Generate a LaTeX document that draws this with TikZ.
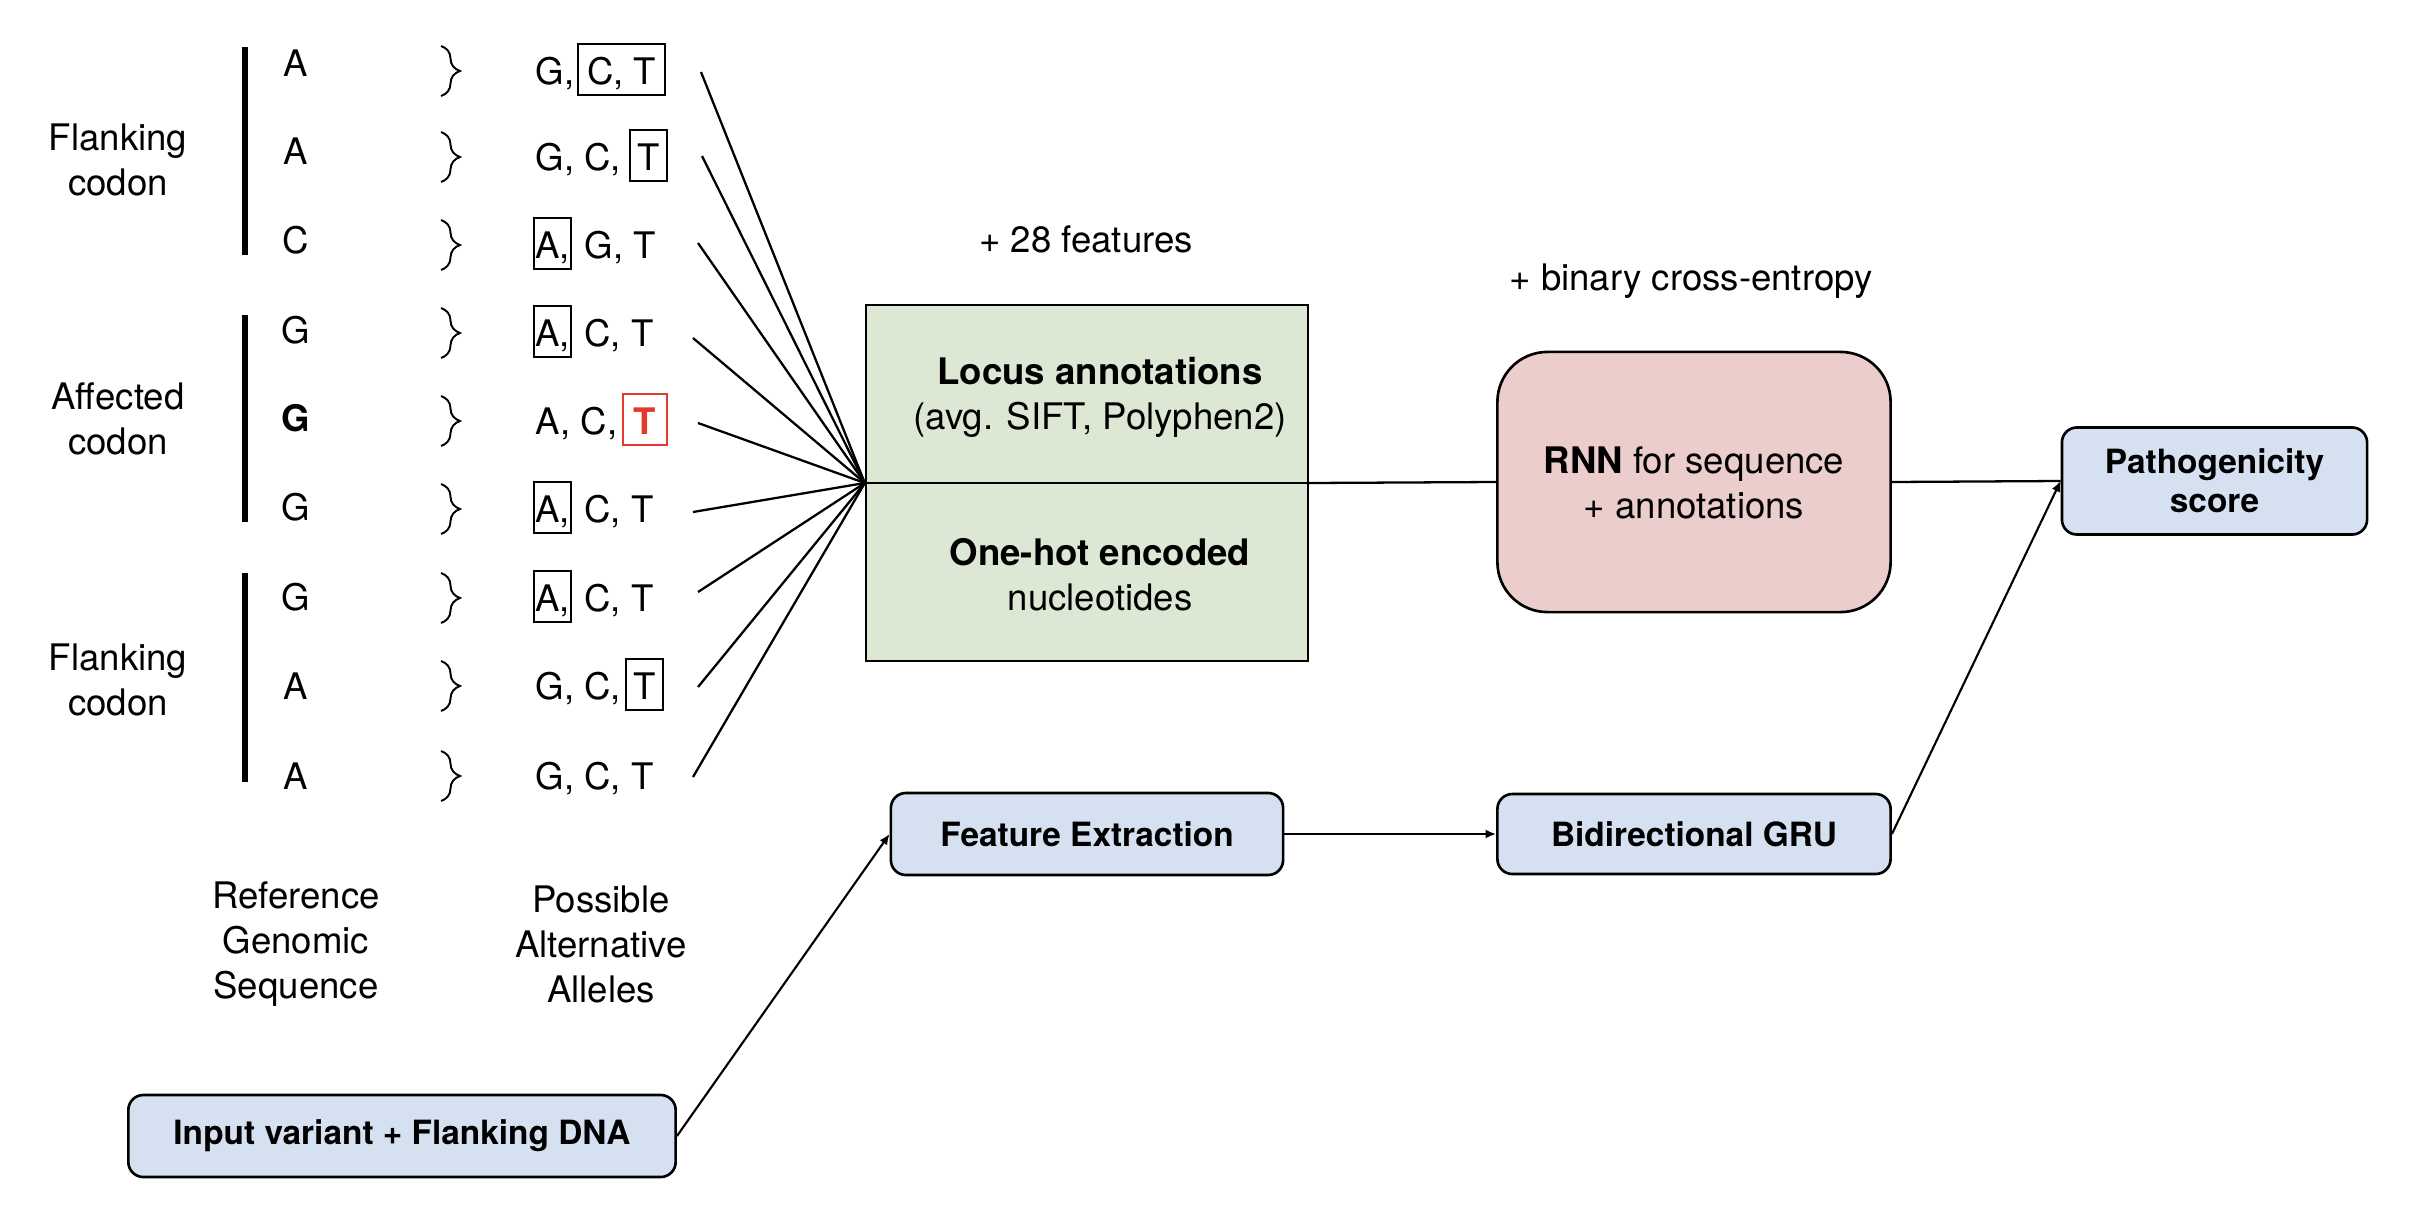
\documentclass[tikz,border=0pt]{standalone}
\usepackage{fontspec}
\setmainfont{TeX Gyre Heros}
\usetikzlibrary{decorations.pathreplacing,arrows.meta}
\definecolor{gfill}{HTML}{DDE8D4}
\definecolor{pfill}{HTML}{EBCDCC}
\definecolor{bfill}{HTML}{D5E1F1}
\definecolor{alertred}{HTML}{E23B2E}
\begin{document}
\begin{tikzpicture}[x=0.01cm,y=-0.01cm,
  every node/.style={font=\fontsize{10.4}{12.8}\selectfont},
  lbl/.style={inner sep=0pt,align=center},
  refl/.style={inner sep=0pt,anchor=base},
  alt/.style={inner sep=0pt,anchor=base west},
  altbox/.style={draw,line width=0.6pt,inner ysep=0pt,anchor=base west,text height=0.40cm,text depth=0.11cm},
  codonbar/.style={line width=1.6pt},
  bracestyle/.style={decorate,decoration={brace,amplitude=0.19cm},line width=0.55pt},
  fan/.style={line width=0.65pt},
  conn/.style={line width=0.65pt},
  arr/.style={line width=0.6pt,-{Latex[length=3pt,width=2.6pt]}},
  bluebox/.style={draw,line width=0.75pt,fill=bfill,rounded corners=0.15cm,align=center,
    font=\fontsize{9.5}{11.1}\selectfont\bfseries,inner sep=0pt}
]
\useasboundingbox (0,0) rectangle (2418,1230);

% codon labels
\node[lbl] (fl1) at (118,159.5) {Flanking\\codon};
\node[lbl] (aff) at (118,419) {Affected\\codon};
\node[lbl] (fl2) at (118,679.5) {Flanking\\codon};

% codon bars
\draw[codonbar] (245,47) -- (245,255);
\draw[codonbar] (245,315) -- (245,522);
\draw[codonbar] (245,573) -- (245,782);

% reference letters
\node[refl] (r1) at (296,76) {A};
\node[refl] (r2) at (296,164) {A};
\node[refl] (r3) at (296,253) {C};
\node[refl] (r4) at (296,343) {G};
\node[refl] (r5) at (296,431) {\textbf{G}};
\node[refl] (r6) at (296,520) {G};
\node[refl] (r7) at (296,610) {G};
\node[refl] (r8) at (296,699) {A};
\node[refl] (r9) at (296,789) {A};

% braces
\foreach \c in {71,157,245,333,421,509,598,686,776}{
  \draw[bracestyle] (441,\c-25) -- (441,\c+25);
}

% alternative alleles
\node[alt] (p1) at (535,84) {G,};
\node[altbox,inner xsep=0.09cm] (b1) at ([xshift=0.02cm]p1.base east) {C, T};

\node[alt] (p2) at (535,170) {G, C,};
\node[altbox,inner xsep=0.075cm] (b2) at ([xshift=0.07cm]p2.base east) {T};

\node[altbox,inner xsep=0.01cm] (b3) at (533,258) {A,};
\node[alt] (p3) at ([xshift=0.12cm]b3.base east) {G, T};

\node[altbox,inner xsep=0.01cm] (b4) at (533,346) {A,};
\node[alt] (p4) at ([xshift=0.12cm]b4.base east) {C, T};

\node[alt] (p5) at (535,434) {A, C,};
\node[altbox,draw=alertred,inner xsep=0.11cm,text=alertred] (b5) at ([xshift=0.04cm]p5.base east) {\textbf{T}};

\node[altbox,inner xsep=0.01cm] (b6) at (533,522) {A,};
\node[alt] (p6) at ([xshift=0.12cm]b6.base east) {C, T};

\node[altbox,inner xsep=0.01cm] (b7) at (533,611) {A,};
\node[alt] (p7) at ([xshift=0.12cm]b7.base east) {C, T};

\node[alt] (p8) at (535,699) {G, C,};
\node[altbox,inner xsep=0.075cm] (b8) at ([xshift=0.03cm]p8.base east) {T};

\node[alt] (p9) at (535,789) {G, C, T};

% column captions
\node[lbl] (refcap) at (296,944) {Reference\\Genomic\\Sequence};
\node[lbl] (altcap) at (601,944) {Possible\\Alternative\\Alleles};

% green feature box
\node[draw,line width=0.6pt,fill=gfill,minimum width=4.42cm,minimum height=3.56cm,inner sep=0pt] (green) at (1087,483) {};
\draw[conn] (green.west) -- (green.east);
\node[lbl] (locus) at (1100,397.5) {\textbf{Locus annotations}\\(avg. SIFT, Polyphen2)};
\node[lbl] (onehot) at (1100,574.5) {\textbf{One-hot encoded}\\nucleotides};
\node[lbl] (feat28) at (1086,239) {+ 28 features};
\coordinate (hub) at (green.west);

% fan lines
\coordinate (s1) at (701,72);
\coordinate (s2) at (702,156);
\coordinate (s3) at (698,243);
\coordinate (s4) at (693,338);
\coordinate (s5) at (698,423);
\coordinate (s6) at (693,512);
\coordinate (s7) at (698,592);
\coordinate (s8) at (698,687);
\coordinate (s9) at (693,777);
\foreach \i in {1,...,9}{
  \draw[fan] (s\i) -- (hub);
}

% RNN box
\node[draw,line width=0.75pt,fill=pfill,rounded corners=0.5cm,minimum width=3.93cm,minimum height=2.6cm,inner sep=0pt] (rnn) at (1694,482) {};
\node[lbl] (rnntxt) at (1694,482.5) {\textbf{RNN} for sequence\\+ annotations};
\node[lbl] (bce) at (1691,281) {+ binary cross-entropy};

% blue boxes
\node[bluebox,minimum width=3.05cm,minimum height=1.07cm] (patho) at (2214.5,481) {Pathogenicity\\score};
\node[bluebox,minimum width=3.93cm,minimum height=0.8cm] (gru) at (1694,834) {Bidirectional GRU};
\node[bluebox,minimum width=3.92cm,minimum height=0.82cm] (feat) at (1087,834) {Feature Extraction};
\node[bluebox,minimum width=5.47cm,minimum height=0.82cm] (input) at (402,1136) {Input variant + Flanking DNA};

% connectors
\draw[conn] (green.east) -- (rnn.west);
\draw[conn] (rnn.east) -- (patho.west);
\draw[arr] (input.east) -- (feat.west);
\draw[arr] (feat.east) -- (gru.west);
\draw[arr] (gru.east) -- (patho.west);
\end{tikzpicture}
\end{document}
